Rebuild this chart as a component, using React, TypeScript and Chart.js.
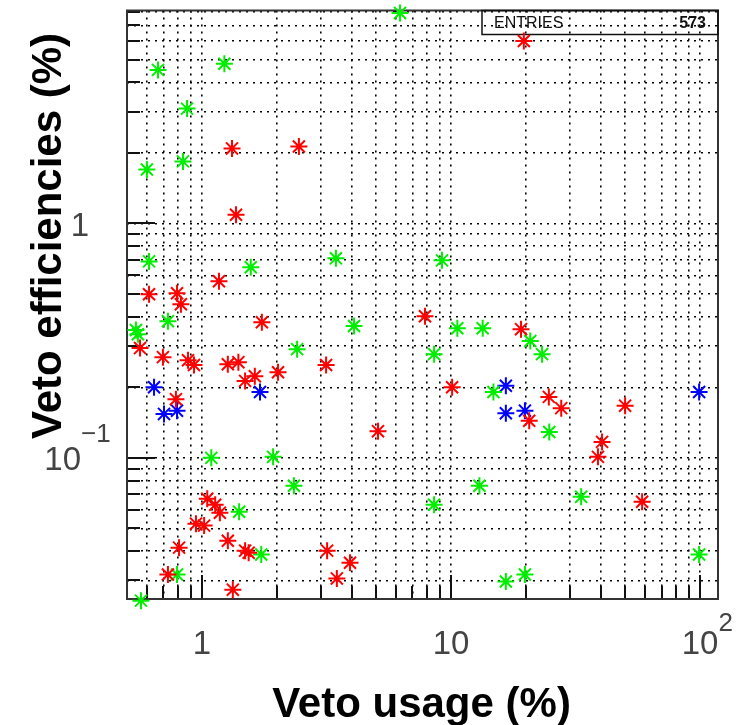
import React, { useEffect, useRef } from 'react';
import { Chart, registerables } from 'chart.js';

Chart.register(...registerables);

// ---- data ----
const redX = [1.32, 2.45, 19.6, 1.37, 1.17, 0.613, 0.794, 0.823, 1.74, 0.564, 0.697, 0.879, 0.929, 1.27, 1.40, 2.02, 3.15, 1.49, 1.63, 0.786, 7.86, 19.1, 10.1, 5.09, 20.6, 24.7, 27.7, 50.0, 40.4, 38.9, 58.5, 1.05, 1.13, 1.18, 0.946, 1.02, 1.27, 1.49, 1.54, 0.809, 0.730, 1.33, 3.18, 3.93, 3.48];
const redY = [2.09, 2.13, 6.0, 1.09, 0.567, 0.499, 0.504, 0.452, 0.379, 0.294, 0.269, 0.261, 0.249, 0.251, 0.256, 0.232, 0.249, 0.213, 0.223, 0.178, 0.402, 0.354, 0.200, 0.130, 0.144, 0.182, 0.163, 0.167, 0.117, 0.101, 0.065, 0.0669, 0.0631, 0.0583, 0.0524, 0.0514, 0.0443, 0.0402, 0.0394, 0.0414, 0.0318, 0.0274, 0.0402, 0.0357, 0.0306];

const greenX = [0.666, 1.23, 0.871, 0.839, 0.601, 6.24, 0.613, 1.57, 0.730, 0.543, 0.553, 2.41, 3.45, 9.20, 4.08, 10.6, 13.4, 8.55, 14.8, 20.8, 23.2, 24.8, 1.09, 1.93, 2.34, 1.41, 1.73, 0.794, 0.569, 13.0, 8.55, 33.3, 99.1, 16.6, 19.8];
const greenY = [4.52, 4.80, 3.09, 1.84, 1.70, 7.91, 0.689, 0.650, 0.383, 0.351, 0.337, 0.291, 0.710, 0.696, 0.365, 0.357, 0.357, 0.277, 0.191, 0.315, 0.277, 0.129, 0.100, 0.101, 0.076, 0.0589, 0.0387, 0.0318, 0.0246, 0.076, 0.0631, 0.0682, 0.0387, 0.0297, 0.0318];

const blueX = [0.642, 1.71, 0.704, 0.794, 16.6, 16.6, 19.8, 99.1];
const blueY = [0.200, 0.191, 0.154, 0.159, 0.203, 0.155, 0.159, 0.191];

const xMin = 0.5;
const xMax = 118;
const yMin = 0.025;
const yMax = 8.1;

const xGridValues = [0.5, 0.6, 0.7, 0.8, 0.9, 1, 2, 3, 4, 5, 6, 7, 8, 9, 10, 20, 30, 40, 50, 60, 70, 80, 90, 100];
const yGridValues = [0.03, 0.04, 0.05, 0.06, 0.07, 0.08, 0.09, 0.1, 0.2, 0.3, 0.4, 0.5, 0.6, 0.7, 0.8, 0.9, 1, 2, 3, 4, 5, 6, 7, 8];
const xMajorValues = [1, 10, 100];
const yMajorValues = [0.1, 1];

const xLabelValues = [1, 10, 100];
const xLabelBase = ['1', '10', '10'];
const xLabelSup = ['', '', '2'];
const yLabelValues = [0.1, 1];
const yLabelBase = ['10', '1'];
const yLabelSup = ['\u22121', ''];

const xTitle = 'Veto usage (%)';
const yTitle = 'Veto efficiencies (%)';
const statsName = 'ENTRIES';
const statsValue = '573';

const RED = '#ff0000';
const GREEN = '#00ee00';
const BLUE = '#0000ff';

const toPoints = (xs: number[], ys: number[]) => xs.map((x, i) => ({ x, y: ys[i] }));

const rootStyle = {
  id: 'rootStyle',
  beforeDatasetsDraw(chart: any) {
    const { ctx, chartArea: a, scales } = chart;
    const x = scales.x;
    const y = scales.y;
    ctx.save();
    ctx.strokeStyle = '#111';
    ctx.lineWidth = 2;
    ctx.beginPath();
    yGridValues.forEach((v) => {
      const py = Math.round(y.getPixelForValue(v));
      const len = yMajorValues.includes(v) ? 28 : 13;
      ctx.moveTo(a.left, py);
      ctx.lineTo(a.left + len, py);
    });
    xGridValues.forEach((v) => {
      if (v <= xMin) return;
      const px = Math.round(x.getPixelForValue(v));
      const len = xMajorValues.includes(v) ? 24 : 13;
      ctx.moveTo(px, a.bottom);
      ctx.lineTo(px, a.bottom - len);
    });
    ctx.stroke();
    // frame
    ctx.strokeStyle = '#333';
    ctx.lineWidth = 2;
    ctx.strokeRect(a.left, a.top, a.right - a.left, a.bottom - a.top);
    // stats box
    const bx = a.right - 236;
    const bh = 24;
    ctx.strokeStyle = '#111';
    ctx.lineWidth = 1.5;
    ctx.strokeRect(bx, a.top, a.right - bx, bh);
    ctx.fillStyle = '#111';
    ctx.font = '16px "Liberation Sans", Arial, sans-serif';
    ctx.textBaseline = 'middle';
    ctx.textAlign = 'left';
    ctx.fillText(statsName, bx + 12, a.top + bh / 2 + 1);
    ctx.textAlign = 'right';
    ctx.font = 'bold 16px "Liberation Sans", Arial, sans-serif';
    ctx.fillText(statsValue, a.right - 12, a.top + bh / 2 + 1);
    ctx.restore();
  },
  afterDraw(chart: any) {
    const { ctx, chartArea: a, scales } = chart;
    const x = scales.x;
    const y = scales.y;
    ctx.save();
    ctx.fillStyle = '#444';
    ctx.textBaseline = 'middle';
    const baseFont = '33px "Liberation Sans", Arial, sans-serif';
    const supFont = '26px "Liberation Sans", Arial, sans-serif';
    // x tick labels
    xLabelValues.forEach((v, i) => {
      const px = x.getPixelForValue(v);
      ctx.font = baseFont;
      ctx.textAlign = 'center';
      ctx.fillText(xLabelBase[i], px, a.bottom + 46);
      if (xLabelSup[i]) {
        const w = ctx.measureText(xLabelBase[i]).width;
        ctx.font = supFont;
        ctx.textAlign = 'left';
        ctx.fillText(xLabelSup[i], px + w / 2, a.bottom + 25);
      }
    });
    // y tick labels
    yLabelValues.forEach((v, i) => {
      const py = y.getPixelForValue(v);
      ctx.font = baseFont;
      ctx.textAlign = 'right';
      if (yLabelSup[i]) {
        const right = a.left - 46;
        ctx.fillText(yLabelBase[i], right, py + 3);
        ctx.font = supFont;
        ctx.textAlign = 'left';
        ctx.fillText(yLabelSup[i], right, py - 23);
      } else {
        ctx.fillText(yLabelBase[i], a.left - 38, py + 3);
      }
    });
    // axis titles
    ctx.fillStyle = '#000';
    ctx.font = 'bold 42px "Liberation Sans", Arial, sans-serif';
    ctx.textAlign = 'center';
    ctx.textBaseline = 'alphabetic';
    ctx.fillText(xTitle, (a.left + a.right) / 2 - 1, a.bottom + 118);
    ctx.translate(61, 236);
    ctx.rotate(-Math.PI / 2);
    ctx.fillText(yTitle, 0, 0);
    ctx.restore();
  },
};

export default function App() {
  const ref = useRef<HTMLCanvasElement | null>(null);
  useEffect(() => {
    if (!ref.current) return;
    const ds = (label: string, xs: number[], ys: number[], color: string) => ({
      label,
      data: toPoints(xs, ys),
      pointStyle: 'star',
      radius: 8.5,
      borderWidth: 2,
      borderColor: color,
      backgroundColor: color,
      clip: false,
    });
    const chart = new Chart(ref.current, {
      type: 'scatter',
      data: {
        datasets: [
          ds('red', redX, redY, RED),
          ds('green', greenX, greenY, GREEN),
          ds('blue', blueX, blueY, BLUE),
        ],
      },
      options: {
        responsive: false,
        animation: false,
        devicePixelRatio: 1,
        layout: { padding: { left: 127, top: 9, right: 20, bottom: 126 } },
        plugins: { legend: { display: false }, tooltip: { enabled: false } },
        scales: {
          x: {
            type: 'logarithmic',
            min: xMin,
            max: xMax,
            afterBuildTicks: (scale: any) => {
              scale.ticks = xGridValues.map((v) => ({ value: v }));
            },
            ticks: { display: false },
            grid: { color: '#000', lineWidth: 1.6, drawTicks: false },
            border: { display: false, dash: [2, 5] },
            title: { display: false },
          },
          y: {
            type: 'logarithmic',
            min: yMin,
            max: yMax,
            afterBuildTicks: (scale: any) => {
              scale.ticks = yGridValues.map((v) => ({ value: v }));
            },
            ticks: { display: false },
            grid: { color: '#000', lineWidth: 1.6, drawTicks: false },
            border: { display: false, dash: [2, 5] },
            title: { display: false },
          },
        },
      },
      plugins: [rootStyle],
    } as any);
    return () => chart.destroy();
  }, []);
  return (
    <div style={{ position: 'absolute', left: 0, top: 0, width: 738, height: 725, background: '#fff' }}>
      <canvas ref={ref} width={738} height={725} />
    </div>
  );
}
